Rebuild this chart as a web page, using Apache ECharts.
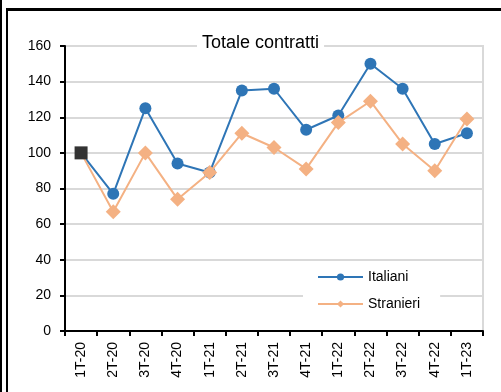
<!DOCTYPE html>
<html>
<head>
<meta charset="utf-8">
<script src="https://cdn.jsdelivr.net/npm/echarts@6/dist/echarts.min.js"></script>
<style>
  html, body { margin: 0; padding: 0; background: #fff; overflow: hidden; }
  #frame1 { position: absolute; left: 0; top: 0; width: 501px; height: 392px; border-left: 2px solid #000; box-sizing: border-box; }
  #frame2 { position: absolute; left: 6px; top: 8px; width: 495px; height: 384px; border-left: 2px solid #000; border-top: 3px solid #000; box-sizing: border-box; }
  #chart { position: absolute; left: 0; top: 0; width: 501px; height: 392px; }
</style>
</head>
<body>
<div id="frame1"></div>
<div id="frame2"></div>
<div id="chart"></div>
<script>
const categories = ['1T-20','2T-20','3T-20','4T-20','1T-21','2T-21','3T-21','4T-21','1T-22','2T-22','3T-22','4T-22','1T-23'];
const italiani  = [100, 77, 125, 94, 89, 135, 136, 113, 121, 150, 136, 105, 111];
const stranieri = [100, 67, 100, 74, 89, 111, 103, 91, 117, 129, 105, 90, 119];
const baseValue = [100];
const yTicks = { min: 0, max: 160, interval: 20 };
const titleText = 'Totale contratti';

const font = '"Liberation Sans", Arial, sans-serif';
const chart = echarts.init(document.getElementById('chart'), null, { renderer: 'canvas' });

const baseData = categories.map((c, i) => (i < baseValue.length ? baseValue[i] : null));

chart.setOption({
  animation: false,
  backgroundColor: 'transparent',
  title: {
    text: titleText,
    left: 197,
    top: 32,
    padding: [2, 5, 2, 5],
    backgroundColor: '#fff',
    textStyle: { fontFamily: font, fontSize: 18, fontWeight: 'normal', color: '#000' }
  },
  legend: {
    data: ['Italiani', 'Stranieri'],
    orient: 'vertical',
    left: 303,
    top: 264,
    width: 137,
    padding: [6, 20, 6, 14],
    backgroundColor: '#fff',
    itemWidth: 45,
    itemHeight: 9,
    itemGap: 13,
    textStyle: { fontFamily: font, fontSize: 14, color: '#000' }
  },
  grid: {
    left: 65, right: 18, top: 46, bottom: 61,
    show: true, borderColor: '#d9d9d9', borderWidth: 2, backgroundColor: 'transparent'
  },
  xAxis: {
    type: 'category',
    data: categories,
    boundaryGap: true,
    axisLine: { lineStyle: { color: '#000', width: 2 } },
    axisTick: { show: true, length: 5, interval: 0, lineStyle: { color: '#000', width: 2 } },
    axisLabel: { rotate: 90, interval: 0, margin: 11, fontFamily: font, fontSize: 14, color: '#000' },
    splitLine: { show: false }
  },
  yAxis: {
    type: 'value',
    min: yTicks.min, max: yTicks.max, interval: yTicks.interval,
    axisLine: { show: true, lineStyle: { color: '#000', width: 2 } },
    axisTick: { show: true, length: 5, lineStyle: { color: '#000', width: 2 } },
    axisLabel: { margin: 14, fontFamily: font, fontSize: 14, color: '#000' },
    splitLine: { show: true, lineStyle: { color: '#d9d9d9', width: 2 } }
  },
  series: [
    {
      name: 'Italiani',
      type: 'line',
      z: 2,
      data: italiani.map((v, i) => i === 0 ? { value: v, symbol: 'none' } : v),
      symbol: 'circle',
      symbolSize: 12,
      color: '#2e75b6',
      lineStyle: { color: '#2e75b6', width: 2 },
      itemStyle: { color: '#2e75b6' }
    },
    {
      name: 'Stranieri',
      type: 'line',
      z: 3,
      data: stranieri.map((v, i) => i === 0 ? { value: v, symbol: 'none' } : v),
      symbol: 'diamond',
      symbolSize: 15,
      color: '#f4b183',
      lineStyle: { color: '#f4b183', width: 2 },
      itemStyle: { color: '#f4b183' }
    },
    {
      name: 'Base',
      type: 'line',
      z: 5,
      data: baseData,
      symbol: 'rect',
      symbolSize: 13,
      showSymbol: true,
      lineStyle: { width: 0, opacity: 0 },
      itemStyle: { color: '#333333' }
    }
  ]
});
</script>
</body>
</html>
